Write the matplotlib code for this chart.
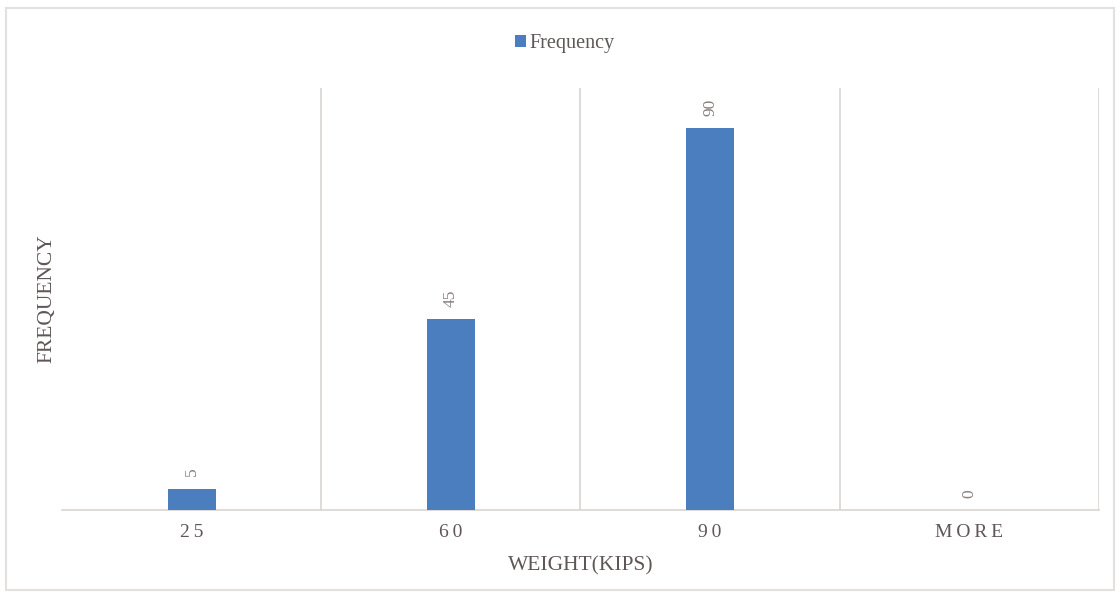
import matplotlib.pyplot as plt
from matplotlib.patches import Rectangle

categories = ["25", "60", "90", "MORE"]
frequency = [5, 45, 90, 0]

bar_color = "#4a7ebf"
grid_color = "#d9d4d2"
text_color = "#5f5656"

plt.rcParams["font.family"] = ["Liberation Serif", "DejaVu Serif"]

fig = plt.figure(figsize=(11.2, 6.01), dpi=100)
ax = fig.add_axes([0.0554, 0.1514, 0.9257, 0.7022])

x = range(len(categories))
bars = ax.bar(x, frequency, width=0.185, color=bar_color, label="Frequency", zorder=3)

ax.set_xlim(-0.5, 3.5)
ax.set_ylim(0, 99.5)

# category boundaries as vertical gridlines
ax.set_xticks([i + 0.5 for i in x], minor=True)
ax.grid(True, which="minor", axis="x", color=grid_color, linewidth=1.2)
ax.tick_params(axis="x", which="minor", length=0)
ax.set_xticks(list(x))
# letter-spaced tick labels
ax.set_xticklabels(["\u2009".join(c) for c in categories],
                   fontsize=14, color=text_color)
ax.tick_params(axis="x", which="major", length=0, pad=10)
ax.set_yticks([])

for s in ["top", "left", "right"]:
    ax.spines[s].set_visible(False)
ax.spines["bottom"].set_color(grid_color)
ax.spines["bottom"].set_linewidth(1.2)

for b, v in zip(bars, frequency):
    ax.annotate(str(v), (b.get_x() + b.get_width() / 2, b.get_height()),
                xytext=(0, 9), textcoords="offset points", rotation=90,
                ha="center", va="bottom", fontsize=12.5, color="#8a8080")

ax.set_xlabel("WEIGHT(KIPS)", fontsize=15.5, color=text_color, labelpad=11)
ax.set_ylabel("FREQUENCY", fontsize=15.5, color=text_color, labelpad=4)

ax.legend(loc="lower center", bbox_to_anchor=(0.485, 1.04), frameon=False,
          fontsize=14.5, handlelength=0.55, handleheight=0.55, handletextpad=0.2,
          labelcolor=text_color)

fig.patches.append(Rectangle((0.005, 0.018), 0.99, 0.968, transform=fig.transFigure,
                             fill=False, edgecolor="#e4e0de", linewidth=1.5))

fig.savefig("out.png", dpi=100)
